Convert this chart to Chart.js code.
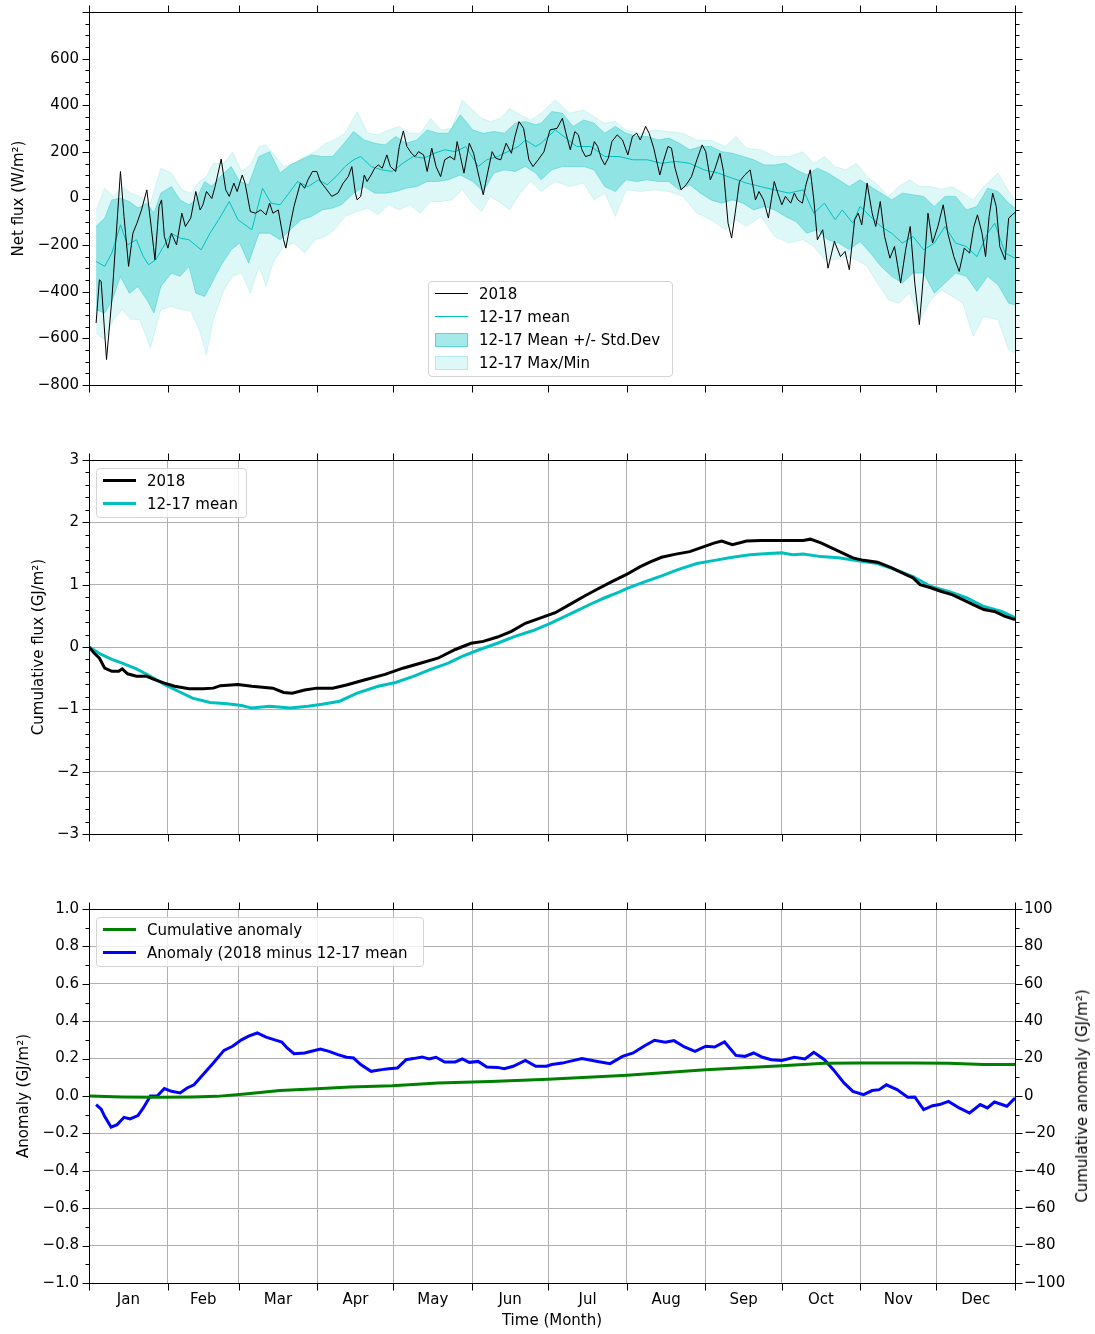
<!DOCTYPE html>
<html>
<head>
<meta charset="utf-8">
<script src="https://cdn.jsdelivr.net/npm/chart.js@4.4.1/dist/chart.umd.min.js"></script>
<style>
  html, body { margin: 0; padding: 0; background: #fff; }
  #page { position: relative; width: 1095px; height: 1334px; overflow: hidden; font-family: 'DejaVu Sans', sans-serif; color: #000; }
  canvas { position: absolute; left: 0; }
  .legend { position: absolute; box-sizing: border-box; background: rgba(255,255,255,0.8); border: 1px solid #d4d4d4; border-radius: 4px; font-size: 15px; }
  .legend .row { display: flex; align-items: center; height: 23px; white-space: nowrap; }
  .legend .h { display: block; width: 33px; margin-left: 6px; margin-right: 11px; box-sizing: border-box; }
  .legend .patch { height: 14px; }
  #y2title { position: absolute; left: 1082px; top: 1096px; transform: translate(-50%, -50%) rotate(-90deg); font-size: 15px; white-space: nowrap; }
</style>
</head>
<body>
<div id="page">
  <canvas id="netChart" width="1095" height="400" style="top:0px"></canvas>
  <canvas id="cumChart" width="1095" height="410" style="top:440px"></canvas>
  <canvas id="anomChart" width="1095" height="444" style="top:890px"></canvas>

  <div class="legend" style="left:428px;top:281px;width:245px;height:96px">
    <div class="row"><span class="h" style="border-top:1px solid #000"></span>2018</div>
    <div class="row"><span class="h" style="border-top:1px solid #00bfbf"></span>12-17 mean</div>
    <div class="row"><span class="h patch" style="background:rgba(0,191,191,0.35);border:1px solid rgba(0,191,191,0.45)"></span>12-17 Mean +/- Std.Dev</div>
    <div class="row"><span class="h patch" style="background:rgba(0,191,191,0.13);border:1px solid rgba(0,191,191,0.2)"></span>12-17 Max/Min</div>
  </div>

  <div class="legend" style="left:96px;top:468px;width:151px;height:50px">
    <div class="row"><span class="h" style="border-top:3px solid #000"></span>2018</div>
    <div class="row"><span class="h" style="border-top:3px solid #00bfbf"></span>12-17 mean</div>
  </div>

  <div class="legend" style="left:96px;top:917px;width:328px;height:50px">
    <div class="row"><span class="h" style="border-top:3px solid #008000"></span>Cumulative anomaly</div>
    <div class="row"><span class="h" style="border-top:3px solid #0000ff"></span>Anomaly (2018 minus 12-17 mean</div>
  </div>

  <div id="y2title">Cumulative anomaly (GJ/m²)</div>
</div>

<script>
// ---- data (day of year, value) ----
const monthStarts = [0, 31, 59, 90, 120, 151, 181, 212, 243, 273, 304, 334, 365];
const monthNames = ['Jan', 'Feb', 'Mar', 'Apr', 'May', 'Jun', 'Jul', 'Aug', 'Sep', 'Oct', 'Nov', 'Dec'];

// net flux 2018 (W/m2)
const net2018 = [
  [2.8,-534],[4.1,-349],[4.8,-356],[6.9,-691],[9.0,-434],[12.4,116],[13.8,-77],[15.6,-291],[17.3,-149],[18.9,-106],
  [20.7,-49],[22.8,37],[24.5,-120],[26.0,-263],[27.6,-34],[28.6,-6],[29.7,-163],[31.1,-213],[32.5,-149],[34.5,-199],
  [36.6,-63],[38.0,-120],[40.1,-84],[42.1,30],[43.8,-49],[44.9,-27],[46.3,30],[48.4,0],[49.7,51],[52.1,169],
  [53.9,37],[55.3,9],[57.1,66],[58.4,30],[60.4,101],[61.5,66],[63.6,-56],[65.6,-63],[67.7,-49],[69.8,-70],
  [71.2,-20],[72.5,-63],[74.6,-49],[76.7,-177],[77.6,-213],[79.2,-120],[80.8,-34],[83.3,66],[85.0,44],[86.3,80],
  [88.1,116],[89.8,116],[91.2,73],[93.3,44],[95.7,9],[98.1,23],[100.2,66],[102.2,94],[103.6,137],[105.0,23],
  [105.7,-6],[107.1,9],[108.5,101],[109.6,73],[111.2,101],[112.6,130],[114.0,144],[115.6,130],[117.4,187],[118.8,137],
  [120.9,116],[122.3,223],[123.9,290],[125.3,223],[127.1,194],[128.5,180],[129.9,201],[131.9,187],[133.3,116],[135.1,216],
  [136.8,137],[138.6,94],[140.2,166],[142.3,180],[144.1,166],[145.1,244],[146.4,180],[147.8,109],[149.9,237],[151.6,194],
  [154.0,80],[155.4,16],[157.1,109],[158.9,201],[160.3,173],[162.3,166],[164.4,237],[166.5,194],[167.9,266],[169.5,330],
  [171.3,301],[173.4,166],[175.0,137],[177.0,165],[179.3,200],[181.7,294],[184.5,301],[186.6,344],[188.0,280],[189.7,209],
  [191.5,287],[192.9,273],[194.3,209],[195.7,180],[197.8,187],[199.2,244],[200.5,223],[201.9,173],[203.3,144],[204.7,173],
  [206.1,244],[208.2,273],[210.3,251],[212.4,187],[214.2,266],[215.9,280],[217.3,251],[219.4,309],[220.8,280],[222.6,216],
  [225.0,101],[226.4,159],[228.2,223],[229.6,216],[231.0,130],[233.4,37],[235.4,59],[237.5,94],[239.6,166],[241.7,230],
  [243.1,201],[244.9,80],[246.6,123],[248.7,194],[250.1,116],[251.9,-106],[253.3,-170],[254.7,-63],[256.4,73],[258.5,101],
  [260.6,123],[262.7,-6],[264.1,30],[265.9,-6],[267.8,-84],[270.1,73],[271.5,23],[273.1,-27],[274.5,9],[276.6,-20],
  [278.0,23],[279.4,-6],[281.2,-20],[282.6,59],[284.3,123],[285.7,-6],[287.1,-177],[289.2,-134],[291.3,-299],[293.8,-184],
  [296.2,-249],[298.0,-227],[299.7,-306],[301.8,-91],[303.2,-63],[304.6,-113],[306.7,66],[308.7,-63],[310.1,-120],[311.9,-13],
  [313.6,-163],[315.7,-256],[317.5,-206],[319.9,-363],[322.0,-213],[323.7,-120],[325.5,-363],[327.3,-541],[329.0,-320],[330.7,-63],
  [332.5,-191],[334.6,-120],[336.7,-27],[338.5,-149],[340.9,-249],[343.0,-313],[345.0,-213],[347.1,-234],[348.8,-120],[350.2,-70],
  [352.0,-149],[353.4,-249],[354.8,-77],[356.2,23],[357.6,-34],[359.0,-206],[361.1,-263],[362.5,-84],[363.9,-70],[365,-60]
];

// 2012-17 mean net flux
const netMean = [
  [2.8,-270],[6.2,-291],[9.0,-234],[12.4,-113],[15.2,-199],[18.7,-177],[21.4,-249],[23.5,-284],[26.3,-263],[29.0,-213],
  [32.5,-149],[35.9,-170],[39.4,-177],[44.2,-220],[47.7,-149],[51.1,-91],[55.3,-13],[58.7,-91],[64.2,-134],[68.4,44],
  [71.8,-20],[75.3,-27],[78.8,23],[82.2,73],[86.3,51],[90.5,80],[93.9,59],[97.4,94],[100.9,137],[104.3,166],
  [107.1,180],[111.2,137],[115.4,123],[119.5,116],[123.7,151],[127.8,180],[131.9,173],[136.1,194],[140.2,209],[144.4,201],
  [148.5,223],[153.4,137],[156.8,166],[161.0,180],[165.1,201],[169.2,223],[172.0,251],[176.1,223],[178.2,237],[183.8,294],
  [188.0,259],[192.2,223],[197.8,223],[203.3,180],[208.9,180],[214.5,166],[220.1,166],[225.7,151],[231.3,159],[236.8,151],
  [242.4,123],[248.0,109],[253.6,87],[259.2,66],[264.8,51],[270.3,37],[275.9,23],[281.5,37],[285.7,-63],[289.9,-20],
  [294.1,-91],[296.9,-49],[301.1,-106],[303.9,-34],[308.0,-77],[312.2,-120],[316.4,-149],[320.6,-191],[324.8,-163],[329.0,-220],
  [333.2,-191],[337.4,-120],[341.6,-191],[345.8,-206],[350.0,-249],[354.2,-149],[357.0,-106],[361.1,-234],[365,-256]
];

// mean -/+ std.dev: [day, low, high]
const netStd = [
  [2.8,-477,-120],[6.2,-491,-84],[9.0,-441,-6],[12.4,-334,1],[15.9,-406,-13],[19.3,-377,-41],[22.8,-434,-20],[25.6,-491,-63],
  [28.3,-377,23],[32.5,-320,51],[35.9,-334,-6],[39.4,-291,-27],[42.1,-406,-6],[45.6,-420,73],[48.4,-363,51],[51.8,-291,94],
  [56.0,-220,137],[59.4,-191,73],[62.9,-277,59],[67.0,-149,180],[71.2,-149,201],[75.3,-177,109],[79.4,-134,144],[83.6,-91,166],
  [87.7,-77,187],[91.9,-49,180],[96.0,-41,180],[99.5,-27,223],[104.3,23,287],[108.5,51,251],[112.6,23,237],[116.7,23,230],
  [120.9,30,266],[125.0,44,237],[129.2,51,251],[133.3,73,294],[137.5,73,280],[141.6,80,280],[146.4,101,359],[151.3,73,294],
  [155.4,30,280],[159.6,109,287],[163.7,123,280],[168.0,116,323],[172.0,137,330],[176.1,109,316],[178.2,80,323],[182.4,123,373],
  [186.6,137,366],[190.8,137,309],[195.0,137,337],[199.1,123,323],[203.3,51,280],[207.5,30,309],[211.7,80,280],[215.9,73,266],
  [220.1,80,266],[224.3,73,251],[228.5,73,259],[232.7,37,237],[236.8,59,209],[241.0,23,223],[245.2,-6,223],[249.4,-20,201],
  [253.6,-6,194],[257.8,-20,180],[262.0,-49,166],[266.2,-34,144],[270.3,-49,144],[274.5,-77,151],[278.7,-99,123],[282.9,-149,101],
  [287.1,-134,130],[291.3,-177,109],[295.5,-191,80],[299.7,-220,51],[303.9,-184,80],[308.0,-234,51],[312.2,-291,23],[316.4,-334,-6],
  [320.6,-363,23],[324.8,-320,16],[329.0,-320,9],[333.2,-406,-34],[337.4,-363,9],[341.6,-320,9],[345.8,-334,-49],[350.0,-398,-34],
  [354.2,-334,44],[358.3,-370,30],[362.5,-449,-20],[365,-456,-41]
];

// min / max: [day, min, max]
const netRange = [
  [2.8,-577,-49],[6.2,-606,44],[9.7,-520,9],[13.1,-477,51],[16.6,-520,23],[20.0,-520,9],[24.2,-641,-20],[28.3,-477,130],
  [32.5,-463,109],[36.6,-477,37],[40.1,-484,23],[43.5,-563,73],[46.3,-670,94],[49.0,-520,151],[53.2,-391,151],[56.6,-334,201],
  [60.1,-320,116],[63.6,-406,144],[67.0,-291,223],[69.8,-377,230],[72.5,-277,194],[76.7,-206,137],[80.8,-191,151],[85.0,-234,180],
  [89.1,-177,201],[93.3,-163,237],[96.7,-134,251],[100.9,-77,280],[105.7,-56,373],[109.8,-41,280],[114.0,-70,273],[118.1,-27,294],
  [122.3,-49,309],[126.4,-27,280],[130.6,-63,280],[134.7,-13,344],[138.9,-13,294],[143.0,-6,301],[147.1,37,423],[151.3,-20,380],
  [154.7,-56,344],[158.2,9,330],[162.3,-20,344],[165.8,-49,387],[169.9,23,359],[174.1,73,337],[178.2,30,366],[183.8,73,423],
  [189.4,51,366],[195.0,66,380],[199.1,-6,351],[203.3,23,323],[207.5,-77,330],[211.7,37,294],[217.3,30,280],[222.9,37,294],
  [228.5,30,287],[234.1,9,280],[239.6,-63,251],[245.2,-91,250],[250.8,-134,223],[255.0,-91,266],[259.2,-120,216],[264.8,-77,209],
  [270.3,-163,180],[275.9,-191,180],[281.5,-177,201],[285.7,-206,151],[289.9,-263,180],[294.1,-263,137],[298.3,-249,123],[302.5,-263,151],
  [306.7,-291,94],[310.8,-363,59],[315.0,-434,9],[319.2,-449,51],[323.4,-406,80],[327.6,-520,51],[331.8,-434,51],[336.0,-391,40],
  [340.2,-420,51],[344.4,-449,23],[348.5,-591,-6],[352.7,-506,51],[358.3,-520,109],[362.5,-649,30],[365,-663,-6]
];

// cumulative flux (GJ/m2)
const cum2018 = [
  [0,0],[2.1,-0.10],[4.1,-0.18],[6.2,-0.34],[9.0,-0.39],[11.7,-0.39],[13.1,-0.35],[15.2,-0.43],[18.7,-0.47],[22.8,-0.47],
  [25.6,-0.52],[29.7,-0.58],[33.8,-0.63],[39.4,-0.67],[44.9,-0.67],[49.0,-0.66],[51.8,-0.62],[58.7,-0.60],[64.2,-0.63],[72.5,-0.66],
  [76.7,-0.73],[80.1,-0.74],[85.0,-0.69],[89.8,-0.66],[96.0,-0.66],[101.5,-0.61],[108.5,-0.53],[116.7,-0.44],[123.7,-0.34],[130.6,-0.26],
  [137.5,-0.18],[144.4,-0.04],[150.6,0.06],[155.4,0.09],[161.0,0.16],[166.5,0.25],[172.0,0.38],[177.5,0.46],[183.8,0.55],[189.4,0.68],
  [195.0,0.81],[200.5,0.93],[206.1,1.05],[211.7,1.16],[217.3,1.29],[221.5,1.37],[225.7,1.44],[231.3,1.49],[236.8,1.53],[242.4,1.61],
  [246.6,1.67],[249.4,1.70],[253.6,1.64],[259.2,1.70],[264.8,1.71],[270.3,1.71],[275.9,1.71],[281.5,1.71],[284.3,1.73],[288.5,1.67],
  [292.7,1.59],[296.9,1.51],[301.1,1.43],[305.3,1.39],[310.8,1.36],[316.4,1.27],[322.0,1.16],[324.8,1.11],[327.6,1.00],[331.8,0.95],
  [336.0,0.89],[340.2,0.84],[344.4,0.76],[348.5,0.68],[352.7,0.60],[356.9,0.57],[361.1,0.49],[365,0.44]
];
const cumMean = [
  [0,0],[4.8,-0.12],[9.0,-0.20],[13.1,-0.26],[18.7,-0.35],[24.2,-0.47],[29.7,-0.60],[35.2,-0.71],[40.8,-0.82],[47.7,-0.89],
  [54.6,-0.91],[60.1,-0.94],[64.2,-0.98],[71.2,-0.95],[79.4,-0.98],[86.3,-0.95],[91.9,-0.92],[98.8,-0.87],[105.7,-0.74],[114.0,-0.63],
  [120.9,-0.57],[127.8,-0.47],[134.7,-0.36],[141.6,-0.26],[147.1,-0.15],[154.0,-0.04],[161.0,0.06],[167.9,0.17],[174.8,0.26],[181.4,0.37],
  [186.6,0.47],[192.2,0.58],[197.8,0.69],[203.3,0.79],[208.9,0.88],[212.1,0.94],[218.7,1.04],[225.7,1.14],[232.7,1.25],[239.6,1.34],
  [246.6,1.39],[253.6,1.44],[260.6,1.48],[267.6,1.50],[273.1,1.51],[277.3,1.48],[281.5,1.49],[288.5,1.45],[295.5,1.43],[303.8,1.38],
  [310.8,1.34],[317.8,1.24],[324.8,1.13],[331.8,0.97],[338.8,0.89],[345.8,0.79],[352.7,0.65],[359.7,0.57],[365,0.47]
];

// anomaly (GJ/m2, left axis) and cumulative anomaly (right axis)
const anomaly = [
  [2.8,-0.046],[4.8,-0.07],[6.2,-0.11],[8.7,-0.166],[11.1,-0.153],[13.8,-0.114],[16.2,-0.123],[19.3,-0.105],[21.4,-0.064],[24.2,0],
  [26.9,0.0],[29.7,0.04],[32.5,0.025],[35.9,0.016],[38.7,0.043],[41.4,0.06],[44.9,0.114],[49.0,0.176],[53.2,0.244],[56.6,0.266],
  [60.1,0.30],[62.9,0.32],[66.3,0.337],[69.8,0.315],[73.2,0.30],[76.0,0.289],[78.1,0.257],[80.8,0.226],[85.0,0.23],[87.7,0.239],
  [91.2,0.251],[94.6,0.239],[98.1,0.221],[101.5,0.207],[104.3,0.203],[107.1,0.168],[111.2,0.132],[115.4,0.141],[118.1,0.146],[121.6,0.15],
  [125.0,0.194],[127.8,0.20],[131.3,0.209],[134.0,0.198],[136.8,0.207],[140.2,0.182],[144.4,0.182],[147.1,0.198],[149.9,0.18],[153.4,0.185],
  [156.8,0.155],[161.0,0.153],[163.7,0.146],[167.2,0.159],[172.0,0.19],[176.1,0.159],[180.3,0.159],[182.4,0.168],[186.6,0.176],[189.4,0.185],
  [194.3,0.20],[200.5,0.185],[205.4,0.173],[210.3,0.212],[214.5,0.23],[218.7,0.266],[222.9,0.298],[227.1,0.287],[230.6,0.296],[234.7,0.262],
  [238.9,0.239],[243.1,0.266],[246.6,0.262],[250.5,0.289],[255.0,0.217],[258.5,0.212],[262.0,0.23],[265.5,0.207],[269.0,0.194],[273.1,0.19],
  [278.0,0.207],[282.2,0.198],[285.7,0.234],[289.9,0.194],[293.4,0.141],[297.6,0.07],[301.1,0.025],[305.3,0.007],[308.7,0.029],[311.5,0.034],
  [314.3,0.06],[318.5,0.034],[322.7,-0.007],[325.5,-0.005],[329.0,-0.073],[332.5,-0.052],[335.3,-0.046],[338.8,-0.029],[343.0,-0.064],[347.1,-0.091],
  [351.3,-0.046],[354.1,-0.064],[356.9,-0.032],[361.8,-0.055],[365,-0.011]
];
const cumAnomaly = [
  [0,0],[13.1,-0.5],[26.9,-0.7],[40.8,-0.5],[50.4,-0.2],[61.5,1.1],[75.3,2.9],[89.8,3.9],[102.9,4.8],[119.5,5.5],
  [137.5,7.0],[158.2,7.8],[181,9.0],[212.1,11.1],[243.1,14.1],[273.1,16.2],[289.9,17.5],[303.9,17.6],[324.8,17.6],[338.8,17.5],
  [352.7,16.9],[365,16.8]
];

// ---- styling helpers ----
Chart.defaults.font.family = "'DejaVu Sans', sans-serif";
Chart.defaults.font.size = 15;
Chart.defaults.color = '#000';

const GRID = '#b0b0b0';
const CYAN = '#00bfbf';
const monthMids = monthNames.map((m, i) => (monthStarts[i] + monthStarts[i + 1]) / 2);

function xy(rows, col) {
  return rows.map(r => ({ x: r[0], y: r[col || 1] }));
}

function fmt(dec) {
  return v => {
    if (Math.abs(v) < 1e-9) return (0).toFixed(dec);
    return (v < 0 ? '\u2212' : '') + Math.abs(v).toFixed(dec);
  };
}

function lineSet(rows, color, width, col) {
  return { data: xy(rows, col), borderColor: color, borderWidth: width, pointRadius: 0, fill: false };
}

function bandSet(rows, col, alpha, fill) {
  const c = 'rgba(0,191,191,' + alpha + ')';
  return { data: xy(rows, col), borderColor: c, backgroundColor: c, borderWidth: 1, pointRadius: 0, fill: fill };
}

// x axis shared by the three panels
function monthAxis(height, showGrid, showLabels) {
  const values = showLabels ? monthStarts.concat(monthMids).sort((a, b) => a - b) : monthStarts;
  return {
    type: 'linear', min: 0, max: 365,
    afterBuildTicks: s => { s.ticks = values.map(v => ({ value: v })); },
    afterFit: s => { s.height = height; s.paddingLeft = 0; s.paddingRight = 0; },
    border: { display: false },
    grid: {
      display: showGrid, drawTicks: false, lineWidth: 1,
      color: c => (c.tick && monthStarts.includes(c.tick.value)) ? GRID : 'rgba(0,0,0,0)'
    },
    ticks: {
      display: showLabels, autoSkip: false, maxRotation: 0, padding: 8,
      callback: v => { const i = monthMids.indexOf(v); return i >= 0 ? monthNames[i] : ''; }
    },
    title: showLabels ? { display: true, text: 'Time (Month)', padding: { top: 0, bottom: 4 } } : { display: false }
  };
}

function valueAxis(min, max, step, format, title, titlePad, showGrid) {
  return {
    type: 'linear', position: 'left', min: min, max: max,
    afterFit: s => { s.width = 89; s.paddingTop = 0; s.paddingBottom = 0; },
    border: { display: false },
    grid: { display: showGrid, drawTicks: false, color: GRID, lineWidth: 1 },
    ticks: { stepSize: step, padding: 10, callback: format },
    title: { display: true, text: title, padding: { top: titlePad, bottom: 0 } }
  };
}

// spines plus major/minor tick marks on all four sides
function makeFrame(left, right) {
  return {
    id: 'frame',
    afterDraw(chart) {
      const { ctx, chartArea: a } = chart;
      const L = Math.round(a.left) + 0.5, R = Math.round(a.right) + 0.5;
      const T = Math.round(a.top) + 0.5, B = Math.round(a.bottom) + 0.5;
      ctx.save();
      ctx.strokeStyle = '#000';
      ctx.lineWidth = 1;
      const seg = (x1, y1, x2, y2) => { ctx.beginPath(); ctx.moveTo(x1, y1); ctx.lineTo(x2, y2); ctx.stroke(); };
      ctx.strokeRect(L, T, R - L, B - T);
      monthStarts.forEach(d => {
        const x = Math.round(chart.scales.x.getPixelForValue(d)) + 0.5;
        seg(x, B, x, B + 7);
        seg(x, T, x, T - 7);
      });
      const side = (cfg, x0, dir) => {
        const s = chart.scales[cfg.scale];
        const n = Math.round((s.max - s.min) / cfg.minor);
        for (let i = 0; i <= n; i++) {
          const v = s.min + i * cfg.minor;
          const r = v / cfg.major;
          const major = Math.abs(r - Math.round(r)) < 1e-6;
          const y = Math.round(s.getPixelForValue(v)) + 0.5;
          seg(x0, y, x0 + dir * (major ? 7 : 4), y);
        }
      };
      side(left, L, -1);
      side(right, R, 1);
      ctx.restore();
    }
  };
}

const baseOptions = {
  responsive: false,
  animation: false,
  events: [],
  plugins: { legend: { display: false }, tooltip: { enabled: false } }
};

// ---- panel 1: net flux ----
new Chart(document.getElementById('netChart'), {
  type: 'line',
  data: {
    datasets: [
      lineSet(net2018, '#000', 1),
      lineSet(netMean, CYAN, 1),
      bandSet(netStd, 2, 0.35, '+1'),
      bandSet(netStd, 1, 0.35, false),
      bandSet(netRange, 2, 0.13, '+1'),
      bandSet(netRange, 1, 0.13, false)
    ]
  },
  options: Object.assign({}, baseOptions, {
    layout: { padding: { top: 12, right: 80, left: 0, bottom: 0 } },
    scales: {
      x: monthAxis(15, false, false),
      y: valueAxis(-800, 800, 200, v => v === 800 ? '' : fmt(0)(v), 'Net flux (W/m²)', 10, false)
    }
  }),
  plugins: [makeFrame({ scale: 'y', minor: 50, major: 200 }, { scale: 'y', minor: 50, major: 200 })]
});

// ---- panel 2: cumulative flux ----
new Chart(document.getElementById('cumChart'), {
  type: 'line',
  data: {
    datasets: [
      lineSet(cum2018, '#000', 3),
      lineSet(cumMean, CYAN, 3)
    ]
  },
  options: Object.assign({}, baseOptions, {
    layout: { padding: { top: 20, right: 80, left: 0, bottom: 0 } },
    scales: {
      x: monthAxis(16, true, false),
      y: valueAxis(-3, 3, 1, fmt(0), 'Cumulative flux (GJ/m²)', 30, true)
    }
  }),
  plugins: [makeFrame({ scale: 'y', minor: 0.2, major: 1 }, { scale: 'y', minor: 0.2, major: 1 })]
});

// ---- panel 3: anomaly ----
new Chart(document.getElementById('anomChart'), {
  type: 'line',
  data: {
    datasets: [
      Object.assign(lineSet(cumAnomaly, '#008000', 3), { yAxisID: 'y2' }),
      Object.assign(lineSet(anomaly, '#0000ff', 3), { yAxisID: 'y' })
    ]
  },
  options: Object.assign({}, baseOptions, {
    layout: { padding: { top: 19, right: 0, left: 0, bottom: 0 } },
    scales: {
      x: monthAxis(51, true, true),
      y: valueAxis(-1, 1, 0.2, fmt(1), 'Anomaly (GJ/m²)', 15, true),
      y2: {
        type: 'linear', position: 'right', min: -100, max: 100,
        afterFit: s => { s.width = 80; s.paddingTop = 0; s.paddingBottom = 0; },
        border: { display: false },
        grid: { display: false, drawTicks: false },
        ticks: { stepSize: 20, padding: 9, callback: fmt(0) }
      }
    }
  }),
  plugins: [makeFrame({ scale: 'y', minor: 0.1, major: 0.2 }, { scale: 'y2', minor: 10, major: 20 })]
});
</script>
</body>
</html>
